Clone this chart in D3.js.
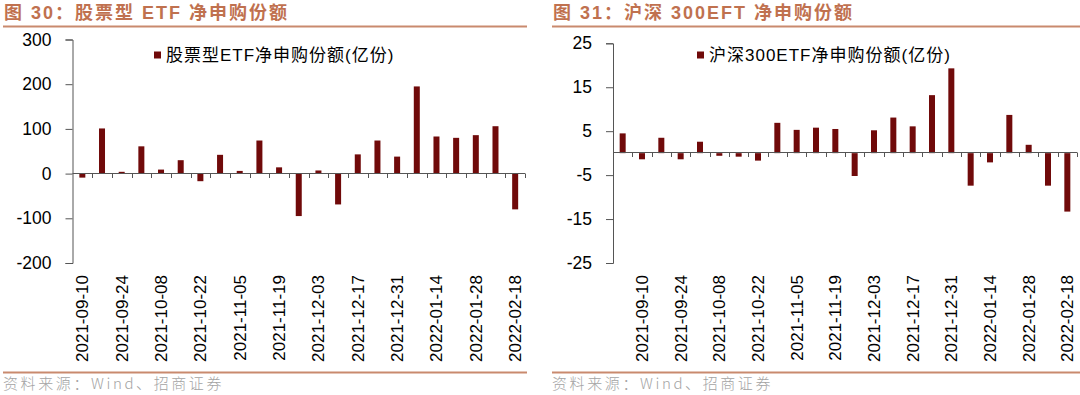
<!DOCTYPE html>
<html>
<head>
<meta charset="utf-8">
<script src="https://cdn.jsdelivr.net/npm/d3@7"></script>
<style>
  body { margin: 0; background: #ffffff; }
  svg { display: block; }
</style>
</head>
<body>
<svg id="svg_canvas" width="1080" height="395"></svg>
<script>
// data
var leftDates = ["2021-09-10","2021-09-17","2021-09-24","2021-09-30","2021-10-08","2021-10-15",
    "2021-10-22","2021-10-29","2021-11-05","2021-11-12","2021-11-19","2021-11-26","2021-12-03",
    "2021-12-10","2021-12-17","2021-12-24","2021-12-31","2022-01-07","2022-01-14","2022-01-21",
    "2022-01-28","2022-02-11","2022-02-18"];
var leftValues = [-9, 101, 4, 61, 9, 30, -17, 42, 6, 74, 14, -95, 7, -69, 43, 74, 38, 195, 83, 80, 86, 106, -80];
var leftTicks = [300, 200, 100, 0, -100, -200];

var rightDates = ["2021-09-03"].concat(leftDates);
var rightValues = [4.5, -1.4, 3.5, -1.4, 2.6, -0.6, -0.8, -1.7, 6.9, 5.3, 5.8, 5.5, -5.2, 5.2,
    8.1, 6.1, 13.2, 19.3, -7.4, -2.1, 8.7, 1.9, -7.4, -13.3];
var rightTicks = [25, 15, 5, -5, -15, -25];

var shownDates = ["2021-09-10","2021-09-24","2021-10-08","2021-10-22","2021-11-05","2021-11-19",
    "2021-12-03","2021-12-17","2021-12-31","2022-01-14","2022-01-28","2022-02-18"];

var barColor = "#700a0a";
var titleColor = "#c0714f";
var ruleColor = "#c98a6e";
var cjk = "'Liberation Sans', Arial, 'Noto Sans CJK SC', sans-serif";

var svg = d3.select('#svg_canvas');

var drawPanel = function(p) {
    var g = svg.append('g');

    // title + rules
    g.append('text')
        .attr('x', p.left + 1)
        .attr('y', 18.5)
        .attr('fill', titleColor)
        .attr('font-family', "'Liberation Sans', 'Noto Sans CJK SC', sans-serif")
        .attr('font-weight', 'bold')
        .attr('font-size', '18px')
        .attr('letter-spacing', '2px')
        .text(p.title);
    g.append('line')
        .attr('x1', p.left).attr('x2', p.right)
        .attr('y1', 26.5).attr('y2', 26.5)
        .attr('stroke', ruleColor).attr('stroke-width', 2);
    g.append('line')
        .attr('x1', p.left).attr('x2', p.right)
        .attr('y1', 372.5).attr('y2', 372.5)
        .attr('stroke', ruleColor).attr('stroke-width', 2);
    g.append('text')
        .attr('x', p.left)
        .attr('y', 389)
        .attr('fill', '#a3a3a3')
        .attr('font-family', "'Noto Sans CJK SC', sans-serif")
        .attr('font-weight', 300)
        .attr('font-size', '15px')
        .attr('letter-spacing', '2.6px')
        .text('资料来源：Wind、招商证券');

    var x = d3.scaleBand()
        .domain(p.dates)
        .range([p.x0, p.x1])
        .padding(0);
    var y = d3.scaleLinear()
        .domain([p.ticks[p.ticks.length - 1], p.ticks[0]])
        .range([p.y1, p.y0]);

    // bars
    g.selectAll('rect.bar')
        .data(p.values)
        .enter()
        .append('rect')
        .attr('class', 'bar')
        .attr('x', function(d, i) { return x(p.dates[i]) + x.bandwidth() / 2 - 3; })
        .attr('width', 6)
        .attr('y', function(d) { return y(Math.max(0, d)); })
        .attr('height', function(d) { return Math.abs(y(d) - y(0)); })
        .attr('fill', barColor);

    // y axis
    var yAxis = g.append('g')
        .attr('transform', 'translate(' + p.x0 + ',0)')
        .call(d3.axisLeft(y).tickValues(p.ticks).tickSize(7).tickPadding(14)
            .tickFormat(function(d) { return String(d); }));
    yAxis.select('.domain').attr('stroke', '#555');
    yAxis.selectAll('.tick line').attr('stroke', '#555');
    yAxis.selectAll('text')
        .attr('font-family', "'Liberation Sans', Arial, sans-serif")
        .attr('font-size', '17.5px')
        .attr('fill', '#000');

    // zero line with ticks at band edges
    var zy = Math.round(y(0)) - 0.5;
    g.append('line')
        .attr('x1', p.x0).attr('x2', p.x1)
        .attr('y1', zy).attr('y2', zy)
        .attr('stroke', '#555');
    var edges = p.dates.map(function(d) { return x(d); }).concat([p.x1]);
    g.selectAll('line.xtick')
        .data(edges.slice(1))
        .enter()
        .append('line')
        .attr('class', 'xtick')
        .attr('x1', function(d) { return Math.round(d) + 0.5; })
        .attr('x2', function(d) { return Math.round(d) + 0.5; })
        .attr('y1', zy).attr('y2', zy + 4.5)
        .attr('stroke', '#555');

    // x labels at the bottom
    g.selectAll('text.xlab')
        .data(p.dates.filter(function(d) { return shownDates.indexOf(d) >= 0; }))
        .enter()
        .append('text')
        .attr('class', 'xlab')
        .attr('transform', function(d) {
            return 'translate(' + (x(d) + x.bandwidth() / 2) + ',275) rotate(-90)';
        })
        .attr('text-anchor', 'end')
        .attr('dy', '0.35em')
        .attr('font-family', "'Liberation Sans', Arial, sans-serif")
        .attr('font-size', '17px')
        .attr('fill', '#000')
        .text(function(d) { return d; });

    // legend
    g.append('rect')
        .attr('x', p.legendX).attr('y', 51.5)
        .attr('width', 7).attr('height', 7)
        .attr('fill', barColor);
    g.append('text')
        .attr('x', p.legendX + 12)
        .attr('y', 61)
        .attr('font-family', cjk)
        .attr('font-size', '17px')
        .attr('letter-spacing', '1px')
        .attr('fill', '#000')
        .text(p.legend);
};

drawPanel({
    title: '图 30：股票型 ETF 净申购份额',
    legend: '股票型ETF净申购份额(亿份)',
    dates: leftDates, values: leftValues, ticks: leftTicks,
    left: 3, right: 527,
    x0: 72.5, x1: 525, y0: 39.5, y1: 263,
    legendX: 154
});

drawPanel({
    title: '图 31：沪深 300EFT 净申购份额',
    legend: '沪深300ETF净申购份额(亿份)',
    dates: rightDates, values: rightValues, ticks: rightTicks,
    left: 552, right: 1080,
    x0: 613, x1: 1077, y0: 43.3, y1: 263,
    legendX: 697
});
</script>
</body>
</html>
